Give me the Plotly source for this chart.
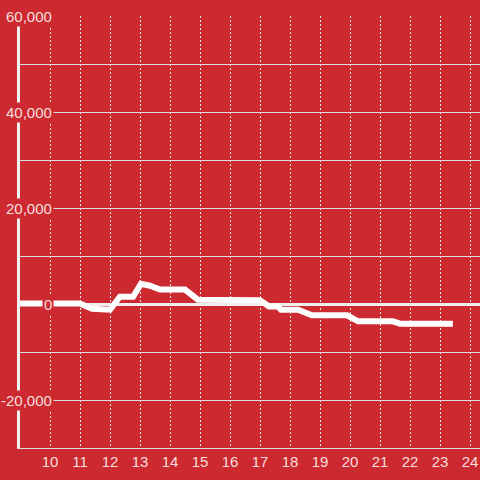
import plotly.graph_objects as go

# time of day (hours) and running value
hours = [9.0, 11.0, 11.4, 12.0, 12.33, 12.77, 13.03, 13.33, 13.67, 14.5, 14.93,
         17.0, 17.3, 17.6, 17.7, 18.27, 18.73, 19.9, 20.27, 21.43, 21.67, 23.43]
values = [100, 100, -1000, -1200, 1500, 1500, 4200, 3800, 3000, 3000, 900,
          800, -500, -500, -1200, -1200, -2350, -2350, -3600, -3600, -4100, -4100]

x_ticks = list(range(10, 25))
y_labels = [-20000, 0, 20000, 40000, 60000]

bg = "#cc2a30"
label_color = "rgba(255,255,255,0.85)"

fig = go.Figure()
fig.add_trace(go.Scatter(x=hours, y=values, mode="lines",
                         line=dict(color="white", width=6), hoverinfo="skip"))

fig.update_xaxes(range=[9, 24.333], tickvals=x_ticks, showgrid=True,
                 gridcolor="#e6e6e6", gridwidth=1, griddash="2px,2px",
                 zeroline=False, showline=True, linecolor="#dddddd", linewidth=1,
                 ticks="",
                 tickfont=dict(family="Liberation Sans", size=15, color=label_color))
fig.update_yaxes(range=[-30000, 60000], dtick=10000, showticklabels=False,
                 showgrid=True, gridcolor="#dddddd", gridwidth=1,
                 zeroline=True, zerolinecolor="#eeeeee", zerolinewidth=3,
                 showline=True, linecolor="#f2f2f2", linewidth=3, ticks="")

# y labels sit over the axis with a background, like the original
for v in y_labels:
    fig.add_annotation(text=f"{v:,}", x=0, xref="paper", y=v, yref="y",
                       xanchor="right", xshift=34, showarrow=False,
                       bgcolor=bg, borderpad=1,
                       font=dict(family="Liberation Sans", size=15, color=label_color))

fig.update_layout(width=480, height=480, paper_bgcolor=bg, plot_bgcolor=bg,
                  margin=dict(l=20, r=0, t=16, b=32), showlegend=False)
fig.write_html("out.html", config={"displayModeBar": False},
               post_script="document.body.style.margin='0';")
